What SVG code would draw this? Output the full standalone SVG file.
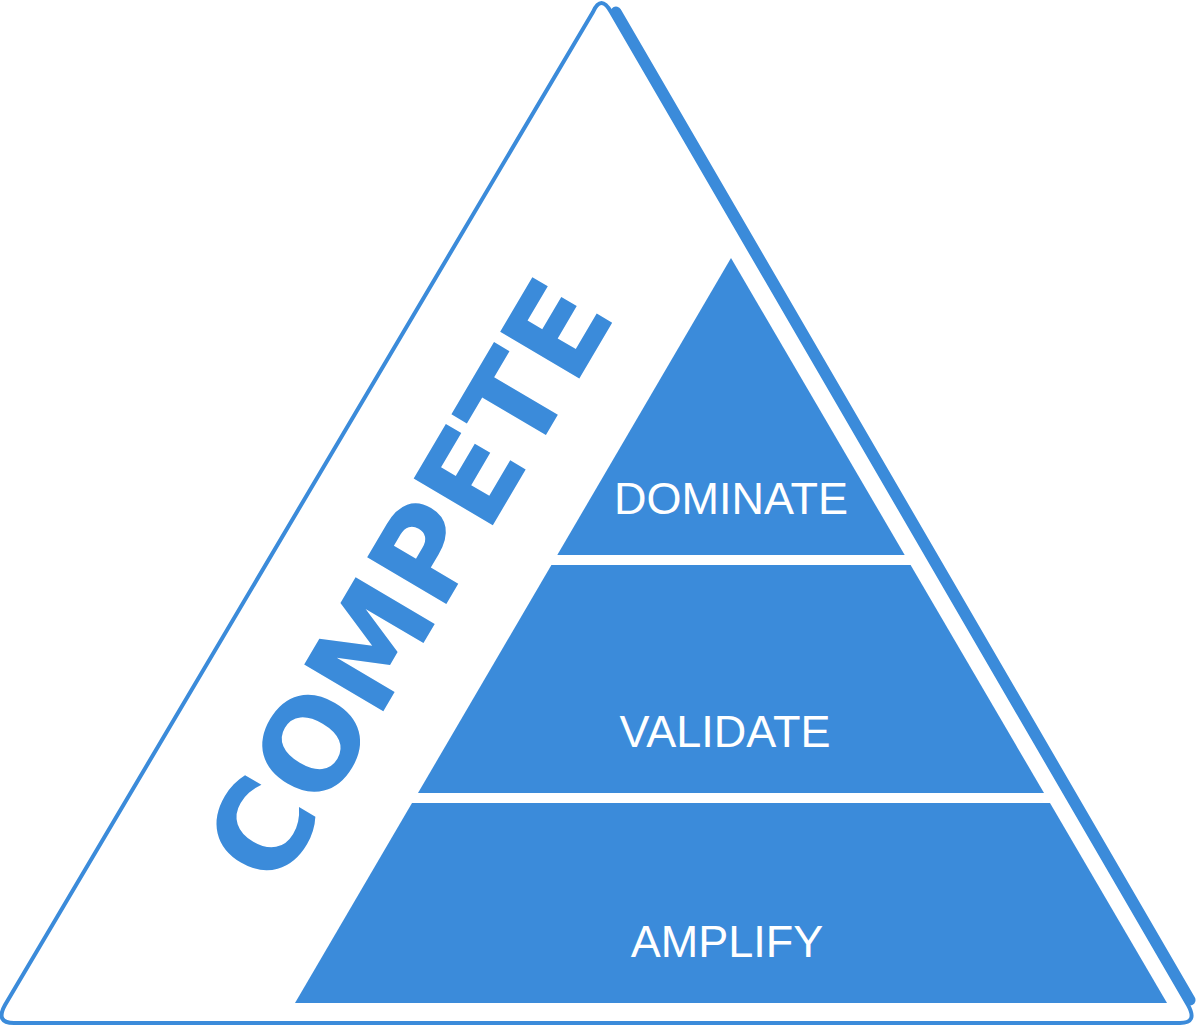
<svg xmlns="http://www.w3.org/2000/svg" width="1200" height="1028" viewBox="0 0 1200 1028">
  <style>
    .tier { fill: #3B8BDA; }
    .lbl { font-family: "Liberation Sans", Arial, sans-serif; font-size: 45px; fill: #ffffff; text-anchor: middle; }
    .big { font-family: "DejaVu Sans", "Liberation Sans", sans-serif; font-weight: 700; font-size: 126px; fill: #3B8BDA; text-anchor: middle; }
    .outline { fill: none; stroke: #3B8BDA; stroke-width: 4; stroke-linejoin: round; }
    .band { fill: none; stroke: #3B8BDA; stroke-width: 11; stroke-linecap: round; }
  </style>
  <rect width="1200" height="1028" fill="#ffffff"/>
  <g id="outer-triangle">
    <path class="outline" d="M 593,12 Q 601,-6 611,12 L 1188,1005 Q 1198,1023 1180,1023 L 14,1023 Q -5,1023 5,1005 Z"/>
    <path class="band" d="M 616,12 L 1190,1000"/>
  </g>
  <g id="compete">
    <text class="big" transform="translate(447,603) rotate(-59.5)" textLength="669" lengthAdjust="spacingAndGlyphs">COMPETE</text>
  </g>
  <g id="dominate">
    <polygon class="tier" points="731,258 904.7,555 557.3,555"/>
    <text class="lbl" x="731" y="514">DOMINATE</text>
  </g>
  <g id="validate">
    <polygon class="tier" points="551.4,565 910.6,565 1044,793 418,793"/>
    <text class="lbl" x="725" y="747">VALIDATE</text>
  </g>
  <g id="amplify">
    <polygon class="tier" points="412,803 1050,803 1167,1003 295,1003"/>
    <text class="lbl" x="727" y="957">AMPLIFY</text>
  </g>
  <g id="connectors"/>
</svg>
